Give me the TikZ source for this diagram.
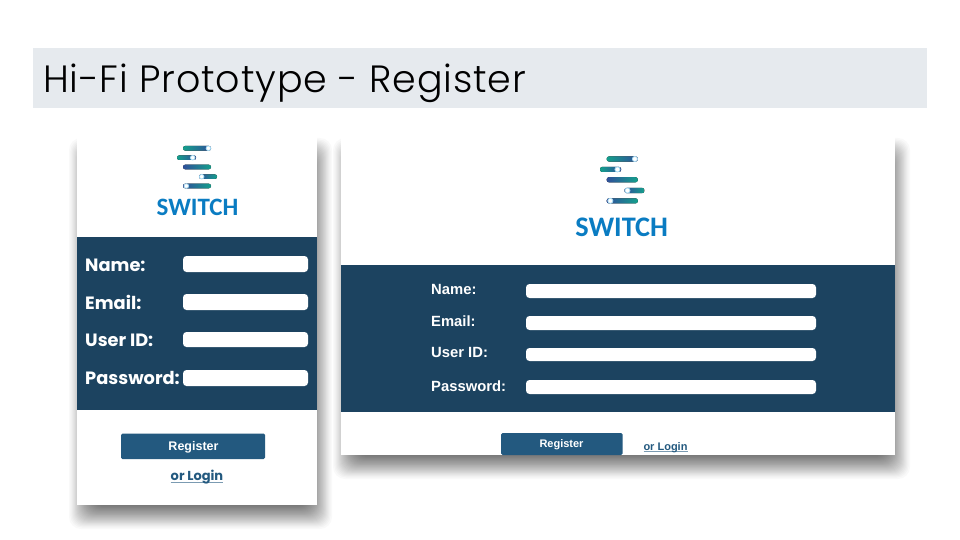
\documentclass[tikz,border=0pt]{standalone}
\usepackage{fontspec}
\setmainfont{Poppins}
\newfontfamily\titlef{Poppins Light}
\newfontfamily\arialf{Liberation Sans}
\newfontfamily\logof{Carlito}
\definecolor{band}{HTML}{1C4360}
\definecolor{btn}{HTML}{23597F}
\definecolor{titleband}{HTML}{E6EAEE}
\definecolor{pillgreen}{HTML}{14A08C}
\definecolor{pillblue}{HTML}{2F4F9A}
\definecolor{logoblue}{HTML}{0A7CC2}
\definecolor{ringblue}{HTML}{A8DCF4}
\newsavebox{\ulbox}
\newcommand{\tightul}[2]{\sbox{\ulbox}{#2}\rlap{\color{btn!60}\rule[#1]{\wd\ulbox}{0.9pt}}\usebox{\ulbox}}
\tikzset{
  cardbox/.style={fill=white,draw=none},
  bandbox/.style={fill=band,draw=none},
  fieldbox/.style={fill=white,draw=none,rounded corners=3.5pt},
  btnbox/.style={fill=btn,draw=none,rounded corners=1.5pt},
  biglabel/.style={anchor=west,inner sep=0pt,text=white,font=\fontsize{17.8}{18}\selectfont\bfseries},
  smalllabel/.style={anchor=west,inner sep=0pt,text=white,font=\arialf\fontsize{14.8}{15}\selectfont\bfseries},
  gb/.style={left color=pillgreen,right color=pillblue},
  bg/.style={left color=pillblue,right color=pillgreen},
  knob/.style={fill=white,draw=ringblue,line width=0.8pt},
  txt/.style={inner sep=0pt}
}
% soft shadow: x0 y0 x1 y1 of the card
\newcommand{\softshadow}[4]{%
  \foreach \k in {0,...,27}{%
    \pgfmathsetmacro{\ins}{24*(\k/28)^0.85}%
    \fill[black,opacity=0.024,rounded corners=12pt]
      ({#1-8+\ins},{#2+4+\ins}) rectangle ({#3+15-\ins},{#4+24-\ins});
  }%
}
% logo: x y scale
\newcommand{\logomark}[3]{%
  \begin{scope}[shift={(#1,#2)},scale=#3]
    \fill[gb,rounded corners=2.2pt] (0,-2.3) rectangle (28,2.3);
    \draw[knob] (25.4,0) circle (2.3);
    \fill[gb,rounded corners=2.2pt] (-6,7.1) rectangle (13,11.7);
    \draw[knob] (9.7,9.4) circle (2.3);
    \fill[bg,rounded corners=2.2pt] (0,16.4) rectangle (28,21);
    \fill[bg,rounded corners=2.2pt] (16,26.1) rectangle (34,30.7);
    \draw[knob] (18.7,28.4) circle (2.3);
    \fill[bg,rounded corners=2.2pt] (0,35.4) rectangle (28,40);
    \draw[knob] (3.3,37.7) circle (2.3);
  \end{scope}%
}
\begin{document}
\begin{tikzpicture}[x=1pt,y=-1pt]
\useasboundingbox (0,0) rectangle (960,540);
\fill[white] (0,0) rectangle (960,540);
% title
\node[fill=titleband,minimum width=894pt,minimum height=60pt,inner sep=0pt,anchor=north west] (titlebar) at (33,48) {};
\node[anchor=base west,inner sep=0pt,font=\titlef\fontsize{38}{39}\selectfont\addfontfeature{LetterSpace=2.2}] (title) at (43,93) {Hi-Fi Prototype - Register};
% phone card
\softshadow{77}{134}{317}{505}
\fill[cardbox] (77,134) rectangle (317,505);
\logomark{183}{148.3}{1}
\node[txt,font=\logof\fontsize{25}{25}\selectfont\bfseries,text=logoblue] (logoA) at (197.5,207.5) {SWITCH};
\fill[bandbox] (77,237) rectangle (317,410);
\node[biglabel] (pname) at (85,265) {Name:};
\node[biglabel] (pemail) at (85,302) {Email:};
\node[biglabel] (puser) at (85,340) {User ID:};
\node[biglabel] (ppass) at (85,378) {Password:};
\fill[fieldbox] (183,256) rectangle (308,272);
\fill[fieldbox] (183,294) rectangle (308,310);
\fill[fieldbox] (183,332) rectangle (308,347);
\fill[fieldbox] (183,370) rectangle (308,386);
\fill[btnbox] (121,433.5) rectangle (265,459);
\node[txt,text=white,font=\arialf\fontsize{12.5}{13}\selectfont\bfseries] (preg) at (193.5,446.8) {Register};
\node[txt,text=btn,font=\fontsize{13}{13}\selectfont\bfseries] (plog) at (197,477.5) {\tightul{-1.6pt}{or Login}};
% desktop card
\softshadow{341}{134}{895}{455}
\fill[cardbox] (341,134) rectangle (895,455);
\logomark{606.7}{159}{1.11}
\node[txt,font=\logof\fontsize{28.3}{29}\selectfont\bfseries,text=logoblue] (logoB) at (621.7,227) {SWITCH};
\fill[bandbox] (341,265) rectangle (895,412);
\node[smalllabel] (dname) at (431,289.5) {Name:};
\node[smalllabel] (demail) at (431,321.5) {Email:};
\node[smalllabel] (duser) at (431,352.5) {User ID:};
\node[smalllabel] (dpass) at (431,386.5) {Password:};
\fill[fieldbox] (526,284) rectangle (816,298);
\fill[fieldbox] (526,316) rectangle (816,330);
\fill[fieldbox] (526,348) rectangle (816,361);
\fill[fieldbox] (526,380) rectangle (816,394);
\fill[btnbox] (501,433) rectangle (622.5,455);
\node[txt,text=white,font=\arialf\fontsize{11}{11}\selectfont\bfseries] (dreg) at (561.5,444.5) {Register};
\node[txt,text=btn,font=\arialf\fontsize{11}{11}\selectfont\bfseries] (dlog) at (665.5,447.5) {\tightul{-1.4pt}{or Login}};
\end{tikzpicture}
\end{document}
